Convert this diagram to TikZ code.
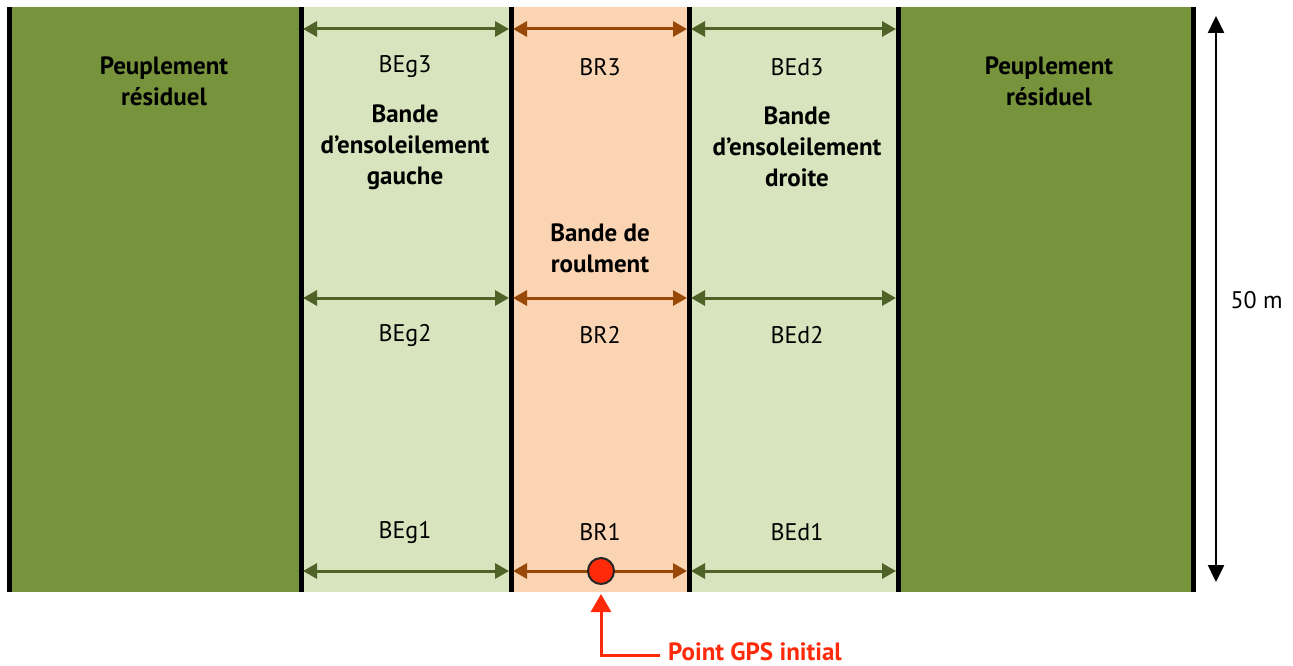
\documentclass[tikz,border=0pt]{standalone}
\usepackage{fontspec}
\setmainfont{PT Sans}
\usetikzlibrary{arrows.meta}
\definecolor{darkgreen}{HTML}{77933C}
\definecolor{lightgreen}{HTML}{D7E4BD}
\definecolor{peach}{HTML}{FBD4B4}
\definecolor{arrgreen}{HTML}{4F6228}
\definecolor{arrbrown}{HTML}{984807}
\definecolor{gpsred}{HTML}{FF2A0A}
\begin{document}
\begin{tikzpicture}[x=1pt,y=-1pt,
  sep/.style={line width=5pt,black},
  garr/.style={arrgreen,line width=3pt,{Triangle[length=14pt,width=15pt]}-{Triangle[length=14pt,width=15pt]}},
  barr/.style={arrbrown,line width=3pt,{Triangle[length=14pt,width=15pt]}-{Triangle[length=14pt,width=15pt]}},
  lbl/.style={font=\fontsize{24}{28}\selectfont,align=center},
  blbl/.style={font=\fontsize{25}{31}\selectfont\bfseries,align=center}]
\useasboundingbox (0,0) rectangle (1293,666);
% bands
\fill[darkgreen] (9,7) rectangle (301,592);
\fill[lightgreen] (301,7) rectangle (511,592);
\fill[peach] (511,7) rectangle (689,592);
\fill[lightgreen] (689,7) rectangle (898,592);
\fill[darkgreen] (898,7) rectangle (1193,592);
% separators
\foreach \x/\n in {9/s0,301/s1,511/s2,689/s3,898/s4,1193/s5}{
  \coordinate (\n t) at (\x,7);
  \coordinate (\n b) at (\x,592);
  \draw[sep] (\n t) -- (\n b);
}
% arrows
\foreach \y/\r in {29/3,298/2,571/1}{
  \coordinate (gl\r) at (303,\y); \coordinate (gr\r) at (509,\y);
  \coordinate (bl\r) at (513,\y); \coordinate (br\r) at (687,\y);
  \coordinate (dl\r) at (691,\y); \coordinate (dr\r) at (896,\y);
  \draw[garr] (gl\r) -- (gr\r);
  \draw[barr] (bl\r) -- (br\r);
  \draw[garr] (dl\r) -- (dr\r);
}
% labels
\node[blbl] (pl) at (164,81) {Peuplement\\résiduel};
\node[blbl] (pr) at (1049,81) {Peuplement\\résiduel};
\node[lbl] (beg3) at (405,67) {BEg3};
\node[lbl] (br3) at (600,67) {BR3};
\node[lbl] (bed3) at (797,67) {BEd3};
\node[blbl] (beg) at (405,147) {Bande\\d’ensoleilement\\gauche};
\node[blbl] (bed) at (797,147) {Bande\\d’ensoleilement\\droite};
\node[blbl] (brl) at (600,248) {Bande de\\roulment};
\node[lbl] (beg2) at (405,335) {BEg2};
\node[lbl] (br2) at (600,335) {BR2};
\node[lbl] (bed2) at (797,335) {BEd2};
\node[lbl] (beg1) at (405,532) {BEg1};
\node[lbl] (br1) at (600,532) {BR1};
\node[lbl] (bed1) at (797,532) {BEd1};
% 50 m
\coordinate (dt) at (1216,16);
\coordinate (db) at (1216,582);
\draw[line width=2.5pt,{Triangle[length=17pt,width=16pt]}-{Triangle[length=17pt,width=16pt]}] (dt) -- (db);
\node[lbl,anchor=west] (fifty) at (1227,300) {50 m};
% GPS
\node[circle,draw=black!85,line width=2pt,fill=gpsred,minimum size=26pt,inner sep=0pt] (gps) at (601,571) {};
\node[font=\fontsize{25}{28}\selectfont\bfseries,text=gpsred,anchor=west,inner sep=0pt] (gpst) at (668,652) {Point GPS initial};
\coordinate (corner) at (601,655);
\coordinate (tip) at (601,594);
\draw[gpsred,line width=3pt,-{Triangle[length=18pt,width=20pt]}] ([xshift=-8pt]gpst.west |- corner) -- (corner) -- (tip);
\end{tikzpicture}
\end{document}
